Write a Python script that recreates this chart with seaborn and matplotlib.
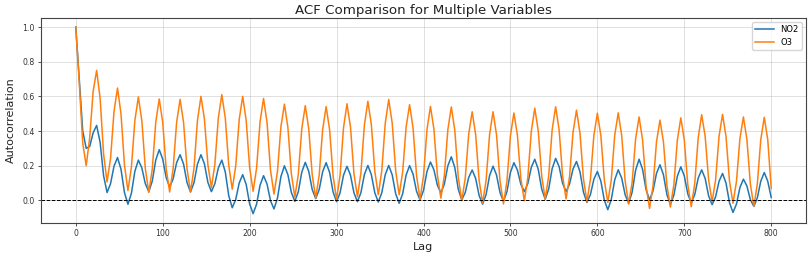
import matplotlib
matplotlib.use("Agg")
import matplotlib.pyplot as plt
import seaborn as sns
import pandas as pd

# Lags sampled every 4 steps (0..800)
LAGS = list(range(0, 801, 4))

# NO2 autocorrelation values (one row = one 24-lag cycle)
NO2 = [
    1.000, 0.700, 0.400, 0.300, 0.310, 0.390,
    0.432, 0.335, 0.142, 0.045, 0.096, 0.197,
    0.247, 0.180, 0.045, -0.023, 0.041, 0.168,
    0.232, 0.187, 0.096, 0.050, 0.111, 0.232,
    0.292, 0.238, 0.131, 0.077, 0.124, 0.217,
    0.263, 0.209, 0.102, 0.048, 0.102, 0.209,
    0.263, 0.210, 0.103, 0.050, 0.096, 0.187,
    0.232, 0.163, 0.026, -0.043, 0.005, 0.100,
    0.148, 0.092, -0.021, -0.077, -0.022, 0.087,
    0.142, 0.094, -0.002, -0.050, 0.012, 0.137,
    0.199, 0.148, 0.045, -0.006, 0.050, 0.163,
    0.219, 0.167, 0.062, 0.010, 0.062, 0.165,
    0.217, 0.161, 0.048, -0.008, 0.043, 0.145,
    0.196, 0.145, 0.043, -0.008, 0.044, 0.149,
    0.201, 0.148, 0.043, -0.010, 0.043, 0.148,
    0.201, 0.147, 0.038, -0.017, 0.037, 0.146,
    0.200, 0.151, 0.052, 0.002, 0.057, 0.166,
    0.221, 0.176, 0.087, 0.042, 0.094, 0.199,
    0.251, 0.189, 0.064, 0.002, 0.045, 0.132,
    0.175, 0.126, 0.027, -0.022, 0.033, 0.142,
    0.197, 0.146, 0.045, -0.006, 0.050, 0.161,
    0.217, 0.175, 0.092, 0.050, 0.097, 0.190,
    0.237, 0.179, 0.064, 0.006, 0.065, 0.183,
    0.242, 0.194, 0.098, 0.050, 0.094, 0.181,
    0.224, 0.165, 0.047, -0.012, 0.033, 0.122,
    0.166, 0.111, 0.001, -0.054, 0.004, 0.119,
    0.176, 0.128, 0.031, -0.017, 0.047, 0.174,
    0.237, 0.179, 0.062, 0.003, 0.054, 0.155,
    0.205, 0.148, 0.033, -0.025, 0.030, 0.139,
    0.193, 0.141, 0.037, -0.015, 0.033, 0.128,
    0.176, 0.126, 0.025, -0.025, 0.020, 0.110,
    0.155, 0.099, -0.014, -0.070, -0.022, 0.074,
    0.122, 0.083, 0.004, -0.035, 0.014, 0.111,
    0.160, 0.110, 0.016,
]

# O3 autocorrelation values
O3 = [
    1.000, 0.680, 0.330, 0.200, 0.360, 0.630,
    0.750, 0.589, 0.267, 0.106, 0.242, 0.513,
    0.648, 0.500, 0.204, 0.056, 0.191, 0.462,
    0.597, 0.459, 0.183, 0.045, 0.180, 0.450,
    0.585, 0.451, 0.182, 0.048, 0.182, 0.449,
    0.583, 0.449, 0.182, 0.048, 0.186, 0.462,
    0.600, 0.468, 0.205, 0.073, 0.207, 0.476,
    0.610, 0.474, 0.201, 0.064, 0.198, 0.466,
    0.600, 0.463, 0.189, 0.052, 0.186, 0.454,
    0.588, 0.450, 0.174, 0.036, 0.166, 0.425,
    0.555, 0.421, 0.152, 0.018, 0.150, 0.414,
    0.546, 0.413, 0.146, 0.013, 0.145, 0.409,
    0.541, 0.407, 0.140, 0.006, 0.144, 0.419,
    0.557, 0.423, 0.154, 0.020, 0.158, 0.434,
    0.572, 0.437, 0.167, 0.032, 0.170, 0.445,
    0.582, 0.445, 0.170, 0.032, 0.162, 0.422,
    0.552, 0.416, 0.143, 0.006, 0.140, 0.408,
    0.542, 0.410, 0.145, 0.012, 0.144, 0.407,
    0.539, 0.404, 0.133, -0.002, 0.126, 0.383,
    0.511, 0.379, 0.115, -0.017, 0.115, 0.379,
    0.511, 0.378, 0.112, -0.021, 0.110, 0.373,
    0.504, 0.377, 0.124, -0.003, 0.131, 0.398,
    0.532, 0.401, 0.138, 0.007, 0.140, 0.407,
    0.540, 0.407, 0.141, 0.008, 0.136, 0.392,
    0.520, 0.388, 0.124, -0.008, 0.120, 0.375,
    0.503, 0.374, 0.117, -0.012, 0.117, 0.376,
    0.505, 0.373, 0.110, -0.022, 0.104, 0.355,
    0.481, 0.349, 0.085, -0.047, 0.081, 0.336,
    0.463, 0.338, 0.087, -0.039, 0.090, 0.347,
    0.476, 0.348, 0.091, -0.037, 0.096, 0.361,
    0.494, 0.369, 0.118, -0.008, 0.118, 0.370,
    0.496, 0.368, 0.111, -0.017, 0.108, 0.357,
    0.481, 0.352, 0.094, -0.035, 0.094, 0.351,
    0.479, 0.350, 0.068,
]

SERIES = ["NO2", "O3"]
COLORS = ["#1f77b4", "#ff7f0e"]
X_TICKS = [0, 100, 200, 300, 400, 500, 600, 700, 800]
Y_TICKS = [0.0, 0.2, 0.4, 0.6, 0.8, 1.0]

df = pd.concat([
    pd.DataFrame({"Lag": LAGS, "Autocorrelation": NO2, "Variable": "NO2"}),
    pd.DataFrame({"Lag": LAGS, "Autocorrelation": O3, "Variable": "O3"}),
], ignore_index=True)

plt.rcParams["font.family"] = ["DejaVu Sans"]

fig = plt.figure(figsize=(8.09, 2.58), dpi=100)
ax = fig.add_axes([41 / 809, 1 - 223 / 258, (806 - 41) / 809, (223 - 17.7) / 258])

sns.lineplot(data=df, x="Lag", y="Autocorrelation", hue="Variable",
             hue_order=SERIES, palette=COLORS, linewidth=1.1, ax=ax,
             estimator=None, sort=False)

ax.axhline(0, color="black", linestyle="--", linewidth=0.7)
ax.set_xticks(X_TICKS)
ax.set_yticks(Y_TICKS)
ax.set_xlim(-40, 840)
ax.set_ylim(-0.131, 1.054)
ax.grid(True, color="#b0b0b0", alpha=0.4, linewidth=0.7)
ax.tick_params(labelsize=5.6, length=2.5, width=0.6, pad=2, colors="#333333")
for s in ax.spines.values():
    s.set_linewidth(0.8)
    s.set_color("#444444")

ax.set_title("ACF Comparison for Multiple Variables", fontsize=9.6, pad=3, color="#222222")
ax.set_xlabel("Lag", fontsize=8, labelpad=3, color="#222222")
ax.set_ylabel("Autocorrelation", fontsize=8, labelpad=5, color="#222222")

leg = ax.legend(loc="upper right", fontsize=6, title=None, handlelength=2.2,
                borderpad=0.4, labelspacing=0.4)
for line in leg.get_lines():
    line.set_linewidth(1.1)

fig.savefig("out.png", dpi=100)
